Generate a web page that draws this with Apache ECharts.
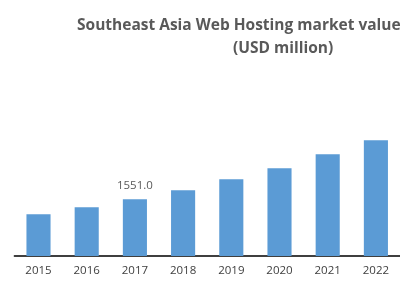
<!DOCTYPE html>
<html><head><meta charset="utf-8">
<script src="https://cdn.jsdelivr.net/npm/echarts@6/dist/echarts.min.js"></script>
<style>html,body{margin:0;padding:0;background:#fff}#c{width:400px;height:286px}</style>
</head><body><div id="c"></div>
<script>
const categories = ['2015','2016','2017','2018','2019','2020','2021','2022'];
const values = [1140, 1332, 1551.0, 1797, 2098, 2399, 2782, 3165];
const labelledIndex = 2;
const titleLine1 = 'Southeast Asia Web Hosting market value,';
const titleLine2 = '(USD million)';

const chart = echarts.init(document.getElementById('c'), null, {renderer: 'canvas'});
chart.setOption({
  animation: false,
  backgroundColor: '#fff',
  title: [
    {text: titleLine1, left: 72, top: 13, textStyle: {fontFamily: 'Open Sans', fontWeight: 'bold', fontSize: 15.5, color: '#595959'}},
    {text: titleLine2, left: 228, top: 36, textStyle: {fontFamily: 'Open Sans', fontWeight: 'bold', fontSize: 15.5, color: '#595959'}}
  ],
  grid: {left: 14.4, width: 388.8, top: 109.8, height: 146.2, containLabel: false},
  xAxis: {
    type: 'category', data: categories,
    axisLine: {lineStyle: {color: '#000', width: 1.5}},
    axisTick: {show: false},
    axisLabel: {color: '#404040', fontFamily: 'Open Sans', fontSize: 11.5, margin: 9}
  },
  yAxis: {type: 'value', min: 0, max: 4000, show: false, splitLine: {show: false}},
  series: [{
    type: 'bar', barWidth: '50%',
    data: values.map((v, i) => i === labelledIndex ? {value: v, label: {show: true}} : v),
    itemStyle: {color: '#5B9BD5'},
    label: {show: false, position: 'top', distance: 8, formatter: p => p.value.toFixed(1), color: '#595959', fontFamily: 'Open Sans', fontSize: 11.5}
  }]
});
</script></body></html>
